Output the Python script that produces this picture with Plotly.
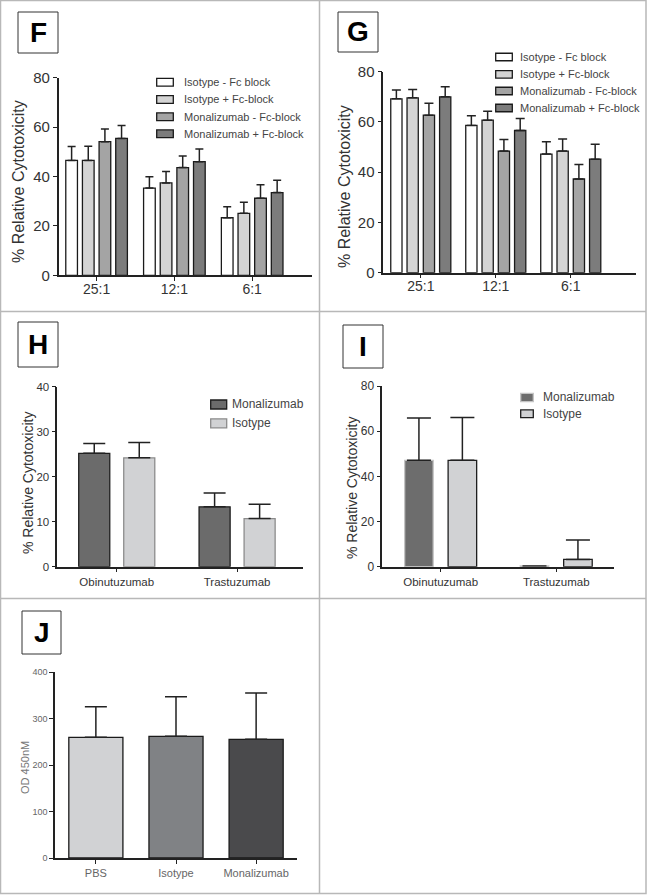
import plotly.graph_objects as go

W, H = 647, 896
def px(x): return x / W
def py(y): return 1 - y / H

FONT = "Arial, Liberation Sans, sans-serif"

# ---------------- data ----------------
ratios = ["25:1", "12:1", "6:1"]
fc_names = ["Isotype - Fc block", "Isotype + Fc-block", "Monalizumab - Fc-block", "Monalizumab + Fc-block"]

F_iso_minus = [46.5, 35.3, 23.3]
F_iso_plus = [46.5, 37.4, 25.1]
F_mona_minus = [54.1, 43.6, 31.2]
F_mona_plus = [55.4, 46.0, 33.5]
F_iso_minus_err = [5.6, 4.6, 4.5]
F_iso_plus_err = [5.7, 4.6, 4.5]
F_mona_minus_err = [5.1, 4.7, 5.5]
F_mona_plus_err = [5.2, 5.1, 5.0]

G_iso_minus = [69.2, 58.6, 47.2]
G_iso_plus = [69.6, 60.7, 48.4]
G_mona_minus = [62.7, 48.4, 37.3]
G_mona_plus = [70.0, 56.6, 45.2]
G_iso_minus_err = [3.5, 3.9, 4.9]
G_iso_plus_err = [3.3, 3.6, 4.8]
G_mona_minus_err = [4.7, 4.6, 5.8]
G_mona_plus_err = [4.0, 4.8, 5.9]

antibodies = ["Obinutuzumab", "Trastuzumab"]
H_mona = [25.2, 13.3]
H_iso = [24.2, 10.7]
H_mona_err = [2.2, 3.1]
H_iso_err = [3.4, 3.2]

I_mona = [47.1, 0.3]
I_iso = [47.1, 3.2]
I_mona_err = [18.7, None]
I_iso_err = [19.0, 8.6]

J_groups = ["PBS", "Isotype", "Monalizumab"]
J_vals = [259.5, 261.6, 255.2]
J_err = [65.9, 85.4, 99.6]

fc_colors = ["#ffffff", "#d4d4d4", "#a4a4a4", "#7c7c7c"]

fig = go.Figure()

def errs(arr, w, color="#222", th=1.5):
    return dict(type="data", symmetric=False, array=arr, arrayminus=[0] * len(arr),
                width=w, thickness=th, color=color)

# ---------------- panel F & G ----------------
def fc_panel(xa, ya, means, errors, slot, bw, capw):
    centers = [-1.5 * slot, -0.5 * slot, 0.5 * slot, 1.5 * slot]
    for i in range(4):
        fig.add_trace(go.Bar(
            x=ratios, y=means[i], name=fc_names[i], xaxis=xa, yaxis=ya,
            width=bw, offset=centers[i] - bw / 2,
            marker=dict(color=fc_colors[i], line=dict(color="#1a1a1a", width=1.3)),
            error_y=errs(errors[i], capw), showlegend=False))

fc_panel("x", "y", [F_iso_minus, F_iso_plus, F_mona_minus, F_mona_plus],
         [F_iso_minus_err, F_iso_plus_err, F_mona_minus_err, F_mona_plus_err], 0.214, 0.15, 4)
fc_panel("x2", "y2", [G_iso_minus, G_iso_plus, G_mona_minus, G_mona_plus],
         [G_iso_minus_err, G_iso_plus_err, G_mona_minus_err, G_mona_plus_err], 0.217, 0.15, 4.5)

# ---------------- panel H ----------------
fig.add_trace(go.Bar(x=antibodies, y=H_mona, xaxis="x3", yaxis="y3", name="Monalizumab",
                     width=0.258, offset=-0.187 - 0.129,
                     marker=dict(color="#6b6b6b", line=dict(color="#1e1e1e", width=1.3)),
                     error_y=errs(H_mona_err, 11), showlegend=False))
fig.add_trace(go.Bar(x=antibodies, y=H_iso, xaxis="x3", yaxis="y3", name="Isotype",
                     width=0.258, offset=0.187 - 0.129,
                     marker=dict(color="#d1d2d4", line=dict(color="#8c8c8c", width=1.3)),
                     error_y=errs(H_iso_err, 11), showlegend=False))

# ---------------- panel I ----------------
fig.add_trace(go.Bar(x=antibodies, y=I_mona, xaxis="x4", yaxis="y4", name="Monalizumab",
                     width=0.247, offset=-0.188 - 0.1235,
                     marker=dict(color="#6d6d6d", line=dict(color="#c4c4c4", width=1.3)),
                     error_y=errs(I_mona_err, 12), showlegend=False))
fig.add_trace(go.Bar(x=antibodies, y=I_iso, xaxis="x4", yaxis="y4", name="Isotype",
                     width=0.247, offset=0.188 - 0.1235,
                     marker=dict(color="#d1d2d4", line=dict(color="#1e1e1e", width=1.3)),
                     error_y=errs(I_iso_err, 12), showlegend=False))

# ---------------- panel J ----------------
fig.add_trace(go.Bar(x=J_groups, y=J_vals, xaxis="x5", yaxis="y5", width=0.675,
                     marker=dict(color=["#d1d2d4", "#808285", "#4a4a4c"],
                                 line=dict(color="#1a1a1a", width=1.3)),
                     error_y=errs(J_err, 11), showlegend=False))

# ---------------- axes ----------------
def xax(d0, d1, rng, anchor, size, color="#333", standoff=0):
    d = dict(domain=[px(d0), px(d1)], range=rng, anchor=anchor, showline=True, automargin=False,
             linecolor="#222", linewidth=1.5, ticks="outside", ticklen=4, tickwidth=1.3,
             tickcolor="#222", showgrid=False, zeroline=False, fixedrange=True,
             tickfont=dict(family=FONT, size=size, color=color))
    if standoff:
        d["ticklabelstandoff"] = standoff
    return d

def yax(y0px, y1px, rng, dtick, anchor, size, color="#333"):
    return dict(domain=[py(y0px), py(y1px)], range=rng, anchor=anchor, showline=True, automargin=False,
                linecolor="#222", linewidth=1.5, ticks="outside", ticklen=4, tickwidth=1.3,
                tickcolor="#222", showgrid=False, zeroline=False, dtick=dtick, tick0=0,
                fixedrange=True, tickfont=dict(family=FONT, size=size, color=color))

layout_kw = dict(
    width=W, height=H, margin=dict(l=0, r=0, t=0, b=0, pad=0, autoexpand=False),
    paper_bgcolor="white", plot_bgcolor="white", barmode="group",
    yaxis=yax(275.3, 77.7, [0, 80], 20, "x", 15),
    yaxis2=yax(272.7, 71.7, [0, 80], 20, "x2", 15),
    xaxis3=xax(57.3, 303.3, [-0.494, 1.55], "y3", 11.5),
    yaxis3=yax(566.7, 386.7, [0, 40], 10, "x3", 11.5),
    xaxis4=xax(382.3, 614, [-0.505, 1.5], "y4", 11.5),
    yaxis4=yax(566.7, 386, [0, 80], 20, "x4", 12),
    xaxis5=xax(55, 297, [-0.51, 2.51], "y5", 11, "#666"),
    yaxis5=yax(858, 672, [0, 400], 100, "x5", 9, "#666"),
)
try:
    fig.update_layout(xaxis=xax(58.7, 311.7, [-0.487, 2.765], "y", 14, standoff=-4),
                      xaxis2=xax(383.3, 636, [-0.5, 2.87], "y2", 14, standoff=-4))
except Exception:
    fig.update_layout(xaxis=xax(58.7, 311.7, [-0.487, 2.765], "y", 14),
                      xaxis2=xax(383.3, 636, [-0.5, 2.87], "y2", 14))
fig.update_layout(**layout_kw)

shapes = []
annos = []
BORDER = "#b8b8b8"
# panel frames
shapes.append(dict(type="rect", xref="paper", yref="paper", x0=px(0.5), x1=px(646), y0=py(0.5), y1=py(893.5),
                   line=dict(color=BORDER, width=1.5)))
shapes.append(dict(type="line", xref="paper", yref="paper", x0=px(319.5), x1=px(319.5), y0=py(0), y1=py(893.5),
                   line=dict(color=BORDER, width=1.5)))
for yy in (311.5, 598.5):
    shapes.append(dict(type="line", xref="paper", yref="paper", x0=px(0), x1=px(646), y0=py(yy), y1=py(yy),
                       line=dict(color=BORDER, width=1.5)))

# panel letters
for letter, x0, x1, y0, y1 in [("F", 18, 58, 12, 53), ("G", 338, 378, 12, 52), ("H", 18, 58, 322, 367),
                               ("I", 343, 383, 325, 368), ("J", 22, 61, 611, 654)]:
    shapes.append(dict(type="rect", xref="paper", yref="paper", x0=px(x0), x1=px(x1), y0=py(y0), y1=py(y1),
                       line=dict(color="#333", width=1), fillcolor="white"))
    annos.append(dict(text="<b>%s</b>" % letter, xref="paper", yref="paper", x=px((x0 + x1) / 2),
                      y=py((y0 + y1) / 2), showarrow=False, xanchor="center", yanchor="middle",
                      font=dict(family=FONT, size=28, color="black")))

# y titles
for text, x, y, size, color in [("% Relative Cytotoxicity", 18, 182, 16, "#333"),
                                ("% Relative Cytotoxicity", 344, 187, 16, "#333"),
                                ("% Relative Cytotoxicity", 28, 483, 14, "#333"),
                                ("% Relative Cytotoxicity", 352, 488, 14, "#333"),
                                ("OD 450nM", 25, 768, 11, "#777")]:
    annos.append(dict(text=text, xref="paper", yref="paper", x=px(x), y=py(y), textangle=-90,
                      showarrow=False, xanchor="center", yanchor="middle",
                      font=dict(family=FONT, size=size, color=color)))

# custom legends
def legend(items, bx0, bx1, tx, size):
    for name, fill, edge, yc, hh in items:
        shapes.append(dict(type="rect", xref="paper", yref="paper", x0=px(bx0), x1=px(bx1),
                           y0=py(yc - hh / 2), y1=py(yc + hh / 2), fillcolor=fill,
                           line=dict(color=edge, width=1.3)))
        annos.append(dict(text=name, xref="paper", yref="paper", x=px(tx), y=py(yc), showarrow=False,
                          xanchor="left", yanchor="middle", font=dict(family=FONT, size=size, color="#444")))

legend([(fc_names[i], fc_colors[i], "#1a1a1a", yc, 7.7) for i, yc in enumerate([82.2, 99.5, 116.7, 133.8])],
       156.7, 173.3, 182, 11)
legend([(fc_names[i], fc_colors[i], "#1a1a1a", yc, 7.5) for i, yc in enumerate([57, 74.3, 91, 108])],
       495.7, 512.3, 518, 11)
legend([("Monalizumab", "#6b6b6b", "#1e1e1e", 404.5, 9), ("Isotype", "#d1d2d4", "#8c8c8c", 423.3, 9)],
       210.7, 226.7, 230, 12)
legend([("Monalizumab", "#6d6d6d", "#c4c4c4", 397.5, 8.4), ("Isotype", "#d1d2d4", "#1e1e1e", 413.8, 7.7)],
       520.7, 533.3, 541, 12)

fig.update_layout(shapes=shapes, annotations=annos)
fig.write_html("out.html", config={"displayModeBar": False},
               post_script="document.body.style.margin='0';document.body.style.overflow='hidden';")
